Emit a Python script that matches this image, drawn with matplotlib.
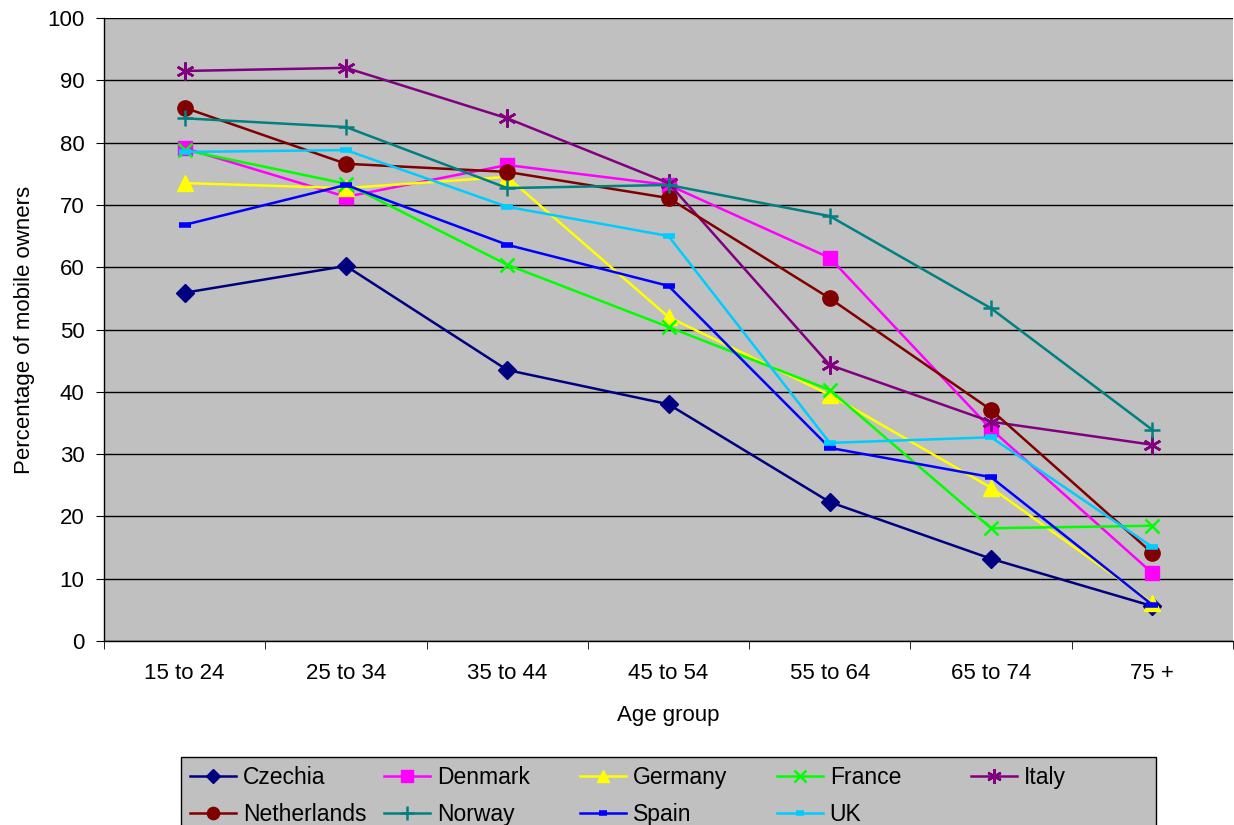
import numpy as np
import matplotlib
matplotlib.use("Agg")
import matplotlib.pyplot as plt
from matplotlib.patches import Rectangle

plt.rcParams['font.family'] = ['Liberation Sans', 'DejaVu Sans']

age_groups = ["15 to 24", "25 to 34", "35 to 44", "45 to 54", "55 to 64", "65 to 74", "75 +"]

czechia = [55.9, 60.2, 43.5, 38.0, 22.3, 13.2, 5.6]
denmark = [79.1, 71.3, 76.4, 73.2, 61.5, 34.0, 10.9]
germany = [73.5, 72.7, 74.5, 52.0, 39.5, 24.6, 6.1]
france = [78.8, 73.4, 60.4, 50.4, 40.3, 18.1, 18.5]
italy = [91.5, 92.0, 83.9, 73.5, 44.3, 35.2, 31.5]
netherlands = [85.6, 76.6, 75.3, 71.1, 55.0, 37.1, 14.1]
norway = [83.9, 82.5, 72.7, 73.2, 68.2, 53.4, 33.9]
spain = [66.8, 73.2, 63.6, 57.0, 31.0, 26.3, 5.8]
uk = [78.5, 78.8, 69.7, 65.0, 31.8, 32.7, 15.1]

series = [
    ("Czechia", czechia, "#000080", "D", 9),
    ("Denmark", denmark, "#FF00FF", "s", 10),
    ("Germany", germany, "#FFFF00", "^", 11),
    ("France", france, "#00FF00", "x", 10),
    ("Italy", italy, "#800080", (6, 2, 0), 13),
    ("Netherlands", netherlands, "#800000", "o", 11),
    ("Norway", norway, "#008080", "+", 12),
    ("Spain", spain, "#0000FF", "_", 8),
    ("UK", uk, "#00CCFF", "_", 8),
]

W, H = 1234, 825
fig = plt.figure(figsize=(W / 100, H / 100), dpi=100)
ax = fig.add_axes([104 / W, 1 - 641 / H, (1233 - 104) / W, (641 - 18) / H])
ax.set_facecolor("#C0C0C0")

x = np.arange(len(age_groups))
handles = {}
for name, vals, color, marker, ms in series:
    kw = dict(color=color, lw=1.8, marker=marker, markersize=ms,
              markerfacecolor=color, markeredgecolor=color)
    if marker in ("x", "+", (6, 2, 0)):
        kw["markeredgewidth"] = 1.8
    if marker == "_":
        kw["markeredgewidth"] = 4
    (h,) = ax.plot(x, vals, label=name, **kw)
    handles[name] = h

ax.set_xlim(-0.5, len(age_groups) - 0.5)
ax.set_ylim(0, 100)
ax.set_yticks(np.arange(0, 101, 10))
ax.set_xticks(x)
ax.set_xticklabels(age_groups)
ax.set_xticks(np.arange(-0.5, len(age_groups), 1), minor=True)
ax.tick_params(axis="x", which="major", length=0, pad=16, labelsize=16)
ax.tick_params(axis="x", which="minor", length=6, color="black")
ax.tick_params(axis="y", length=6, pad=8, labelsize=16, color="black")
ax.grid(axis="y", color="black", lw=1)
ax.set_axisbelow(True)
for side in ("top", "right"):
    ax.spines[side].set_visible(False)
for side in ("left", "bottom"):
    ax.spines[side].set_color("black")
    ax.spines[side].set_linewidth(1)

ax.set_xlabel("Age group", fontsize=16, labelpad=15)
ax.set_ylabel("Percentage of mobile owners", fontsize=16, labelpad=9)

# legend: frame + one legend per column so columns are evenly spaced like Excel
fig.add_artist(Rectangle((181 / W, -0.01), (1156 - 181) / W, 0.01 + 1 - 757 / H,
                         transform=fig.transFigure, facecolor="#C0C0C0",
                         edgecolor="black", lw=1, zorder=0))
columns = [["Czechia", "Netherlands"], ["Denmark", "Norway"], ["Germany", "Spain"],
           ["France", "UK"], ["Italy"]]
col_x = [190, 384, 580, 777, 971]
for cx, names in zip(col_x, columns):
    fig.legend([handles[n] for n in names], names, loc="upper left",
               bbox_to_anchor=(cx / W, 1 - 766 / H), frameon=False,
               fontsize=16.5, handlelength=2.0, handletextpad=0.3,
               borderpad=0, borderaxespad=0, labelspacing=0.6, markerscale=0.8)

fig.savefig("out.png", dpi=100)
